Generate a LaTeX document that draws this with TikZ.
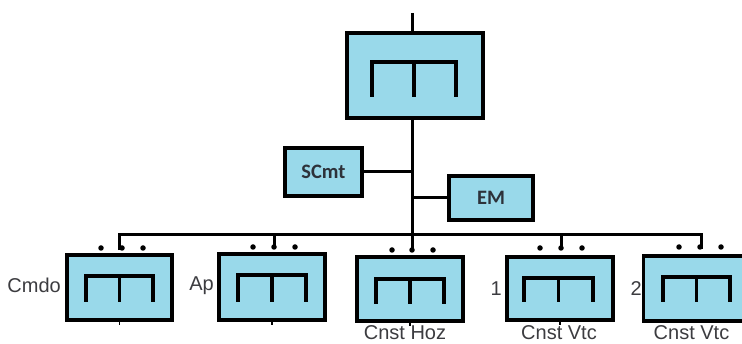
\documentclass[tikz,border=0pt]{standalone}
\usepackage{fontspec}
\setmainfont{Liberation Sans}
\newfontfamily\calfont{Carlito}
\definecolor{boxblue}{RGB}{153,217,234}
\definecolor{txtgray}{RGB}{45,50,58}
\definecolor{lblgray}{RGB}{60,60,64}
\tikzset{
  blk/.style={draw=black, line width=3.4pt, fill=boxblue, rectangle, inner sep=0pt},
  conn/.style={draw=black, line width=3pt},
  glyphline/.style={draw=black, line width=3.2pt},
  pdot/.style={circle, fill=black, inner sep=0pt, minimum size=5.5pt},
  stub/.style={draw=black, line width=1.4pt},
  smalltxt/.style={font=\calfont\bfseries\fontsize{20.5}{20.5}\selectfont, text=txtgray},
  lbl/.style={font=\fontsize{20}{20}\selectfont, text=lblgray, inner sep=0pt},
  pics/glyph/.style 2 args={code={
    \draw[glyphline] (-#1,#2) -- (-#1,0) -- (#1,0) -- (#1,#2);
    \draw[glyphline] (0,0) -- (0,#2);
  }}
}
\begin{document}
\begin{tikzpicture}[x=1pt,y=-1pt]
\clip (0,0) rectangle (742,344);
\fill[white] (0,0) rectangle (742,344);

% top box
\node[blk, minimum width=136pt, minimum height=85pt] (tb) at (415,75.5) {};
\pic at (414,62) {glyph={42}{35}};

% side boxes
\node[blk, minimum width=77pt, minimum height=48pt, smalltxt] (sc) at (323.5,172) {SCmt};
\node[blk, minimum width=84pt, minimum height=44pt, smalltxt] (em) at (491,198) {EM};

% bottom boxes
\node[blk, minimum width=105pt, minimum height=65pt] (b1) at (119.5,287.5) {};
\node[blk, minimum width=106pt, minimum height=66pt] (b2) at (272,287) {};
\node[blk, minimum width=106pt, minimum height=64pt] (b3) at (410,289) {};
\node[blk, minimum width=106pt, minimum height=63pt] (b4) at (560,288.5) {};
\node[blk, minimum width=106pt, minimum height=65pt] (b5) at (696.5,288.5) {};

\pic at (119.5,276) {glyph={33.5}{26}};
\pic at (272,275) {glyph={34}{27}};
\pic at (410,279) {glyph={34}{25}};
\pic at (558.5,278) {glyph={34.5}{24}};
\pic at (696.5,277) {glyph={33.5}{25}};

% port dots
\node[pdot] (d1a) at (101,248) {}; \node[pdot] (d1m) at (122,248) {}; \node[pdot] (d1b) at (143,248) {};
\node[pdot] (d2a) at (253,247) {}; \node[pdot] (d2m) at (274,247) {}; \node[pdot] (d2b) at (295,247) {};
\node[pdot] (d3a) at (392,250) {}; \node[pdot] (d3m) at (412,250) {}; \node[pdot] (d3b) at (433,250) {};
\node[pdot] (d4a) at (540,248) {}; \node[pdot] (d4m) at (561,248) {}; \node[pdot] (d4b) at (582,248) {};
\node[pdot] (d5a) at (679,247) {}; \node[pdot] (d5m) at (700,247) {}; \node[pdot] (d5b) at (721,247) {};

% bus coordinates
\coordinate (top) at (412,13);
\coordinate (bus1) at (119,235);
\coordinate (bus2) at (274,235);
\coordinate (bus3) at (412,235);
\coordinate (bus4) at (561,235);
\coordinate (bus5) at (701,235);

% connectors
\draw[conn] (top) -- (top |- tb.north);
\draw[conn] (top |- tb.south) -- (bus3) -- ([yshift=-5pt]d3m.north);
\draw[conn] (sc.east) -- (sc.east -| top);
\draw[conn] (em.west) -- (em.west -| top);
\draw[conn] ([yshift=-5pt]bus1 |- d1m.north) -- (bus1) -- (bus5) -- ([yshift=-5pt]bus5 |- d5m.north);
\draw[conn] (bus2) -- ([yshift=-5pt]d2m.north);
\draw[conn] (bus4) -- ([yshift=-5pt]d4m.north);

% small stubs below boxes
\draw[stub] (b1.south) -- ++(0,3);
\draw[stub] (b2.south) -- ++(0,3);
\draw[stub] (b3.south) -- ++(0,3);
\draw[stub] (b4.south) -- ++(0,3);

% labels
\node[lbl, anchor=base east] (l1) at (61,293) {Cmdo};
\node[lbl, anchor=base east] (l2) at (214,291) {Ap};
\node[lbl, anchor=base] (l3) at (405,340) {Cnst Hoz};
\node[lbl, anchor=base east] (l4) at (502,296) {1};
\node[lbl, anchor=base] (l5) at (559,340) {Cnst Vtc};
\node[lbl, anchor=base east] (l6) at (642,296) {2};
\node[lbl, anchor=base] (l7) at (691.5,340) {Cnst Vtc};
\end{tikzpicture}
\end{document}
